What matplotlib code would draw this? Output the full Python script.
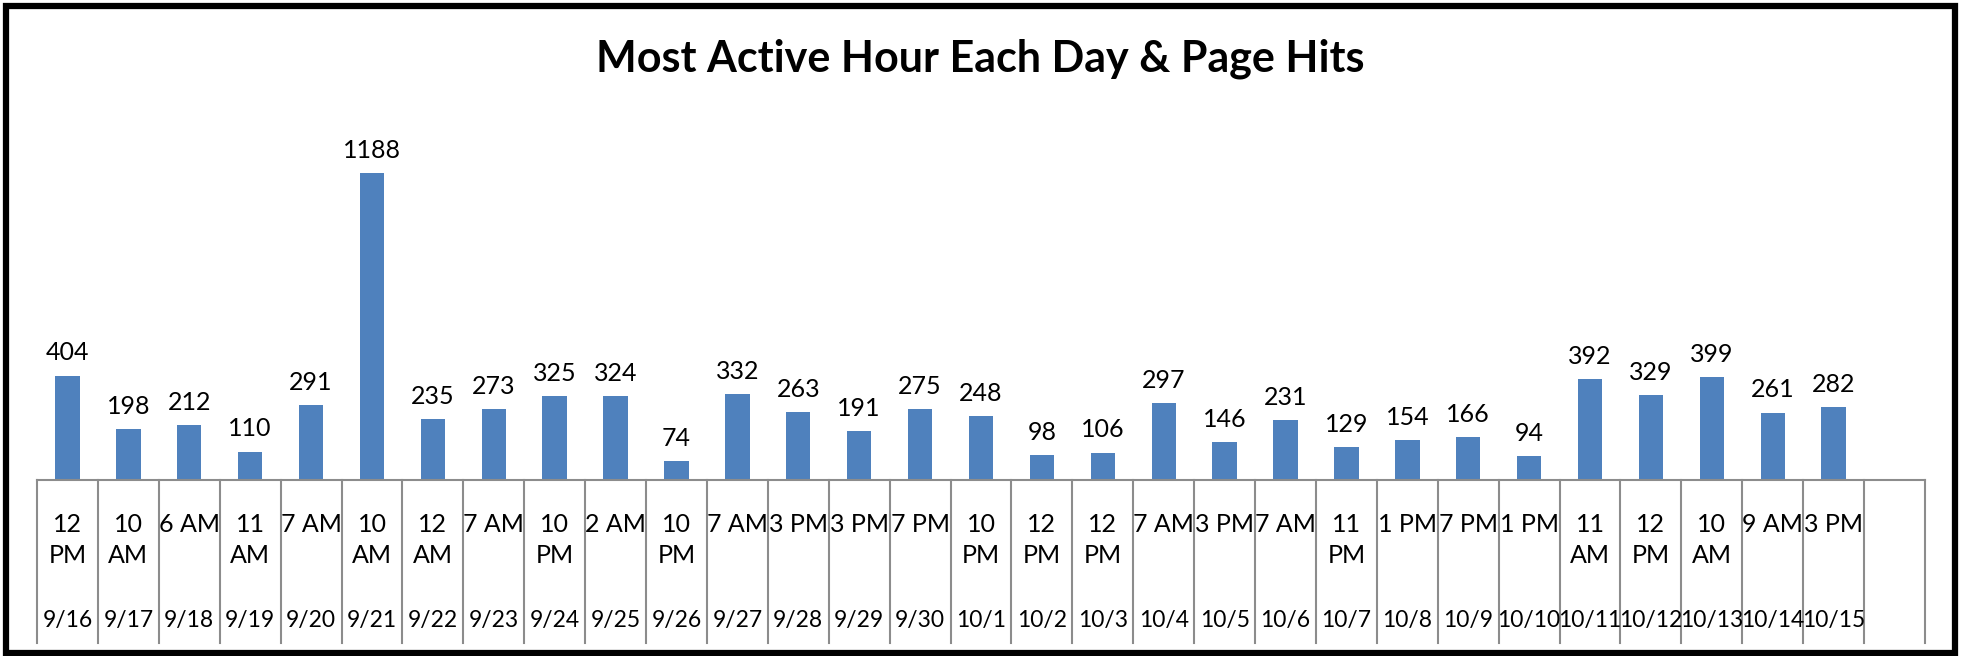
import numpy as np
import matplotlib.pyplot as plt
from matplotlib.patches import Rectangle
from matplotlib.transforms import blended_transform_factory

hours = ['12 PM', '10 AM', '6 AM', '11 AM', '7 AM', '10 AM', '12 AM', '7 AM', '10 PM', '2 AM',
         '10 PM', '7 AM', '3 PM', '3 PM', '7 PM', '10 PM', '12 PM', '12 PM', '7 AM', '3 PM',
         '7 AM', '11 PM', '1 PM', '7 PM', '1 PM', '11 AM', '12 PM', '10 AM', '9 AM', '3 PM']
dates = ['9/16', '9/17', '9/18', '9/19', '9/20', '9/21', '9/22', '9/23', '9/24', '9/25',
         '9/26', '9/27', '9/28', '9/29', '9/30', '10/1', '10/2', '10/3', '10/4', '10/5',
         '10/6', '10/7', '10/8', '10/9', '10/10', '10/11', '10/12', '10/13', '10/14', '10/15']
hits = [404, 198, 212, 110, 291, 1188, 235, 273, 325, 324,
        74, 332, 263, 191, 275, 248, 98, 106, 297, 146,
        231, 129, 154, 166, 94, 392, 329, 399, 261, 282]

plt.rcParams['font.family'] = ['Lato', 'DejaVu Sans']

W, H = 1961, 656
fig = plt.figure(figsize=(W / 100, H / 100), dpi=100)

# axes placed in pixels (left, baseline, right, top)
x0, x1, ybase, ytop = 37, 1925, 480, 131
ax = fig.add_axes([x0 / W, (H - ybase) / H, (x1 - x0) / W, (ybase - ytop) / H])
ncat = len(hits) + 1  # excel left one empty category at the end
x = np.arange(len(hits))
ax.bar(x, hits, width=0.4, color='#4f81bd')
ax.set_xlim(-0.5, ncat - 0.5)
ax.set_ylim(0, 1350)
ax.axis('off')

for xi, v in zip(x, hits):
    ax.annotate(str(v), (xi, v), xytext=(0, 8), textcoords='offset points',
                ha='center', va='bottom', fontsize=18)

# category axis: baseline + separators
trans = blended_transform_factory(ax.transData, ax.transAxes)
ypx = lambda p: (ybase - p) / (ybase - ytop)
ax.plot([-0.5, ncat - 0.5], [0, 0], color='#8c8c8c', lw=1.5, transform=trans, clip_on=False)
for i in range(ncat + 1):
    ax.plot([i - 0.5, i - 0.5], [0, ypx(643)], color='#8c8c8c', lw=1.5,
            transform=trans, clip_on=False)

for xi, hr, d in zip(x, hours, dates):
    num = hr.split()[0]
    lab = hr.replace(' ', '\n') if len(num) == 2 else hr
    ax.text(xi, ypx(513), lab, ha='center', va='top', fontsize=18,
            linespacing=1.4, transform=trans)
    ax.text(xi, ypx(620), d, ha='center', va='center', fontsize=16.5, transform=trans)

fig.text(0.5, (H - 59) / H, 'Most Active Hour Each Day & Page Hits', ha='center', va='center',
         fontsize=31, fontweight='bold')

fig.patches.append(Rectangle((6 / W, 3 / H), (W - 12) / W, (H - 9) / H, transform=fig.transFigure,
                             fill=False, edgecolor='black', lw=4.5))

fig.savefig('out.png', dpi=100)
